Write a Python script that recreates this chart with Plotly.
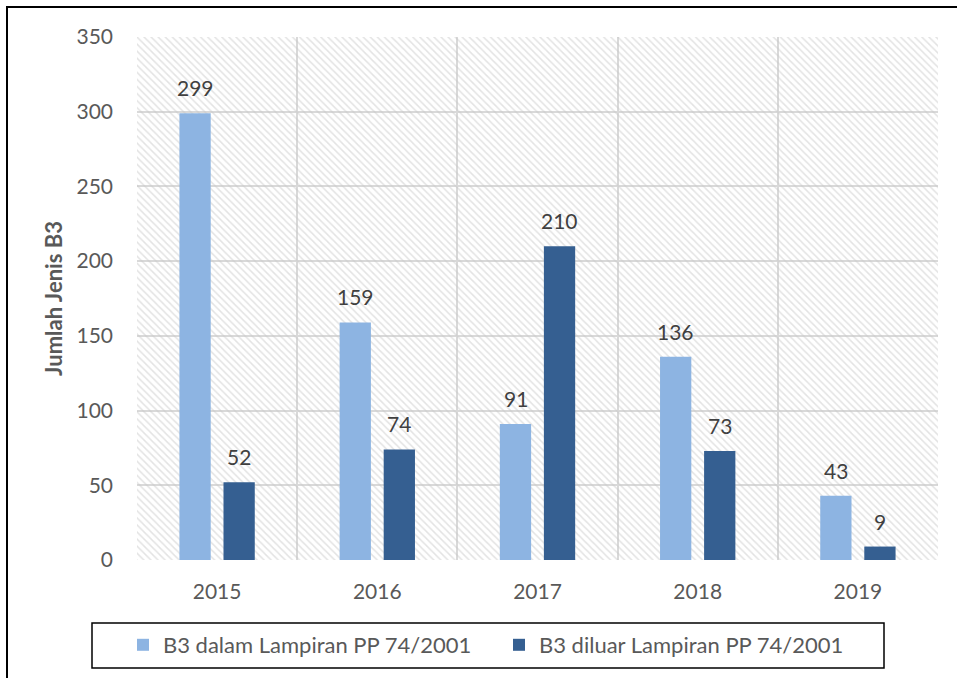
import plotly.graph_objects as go

years = ["2015", "2016", "2017", "2018", "2019"]
dalam = [299, 159, 91, 136, 43]
diluar = [52, 74, 210, 73, 9]
series_names = ["B3 dalam Lampiran PP 74/2001", "B3 diluar Lampiran PP 74/2001"]
y_title = "Jumlah Jenis B3"
y_max = 350

FONT = "Lato"
C_LIGHT = "#8DB4E2"
C_DARK = "#355F91"
GRID = "#D9D9D9"

fig = go.Figure()

# hatched plot-area background
fig.add_trace(go.Bar(
    x=[0.5], y=[y_max], width=[1], xaxis="x", yaxis="y",
    marker=dict(color="rgba(0,0,0,0)", line=dict(width=0),
                pattern=dict(shape="\\", size=5, solidity=0.3,
                             fgcolor="#C8C8C8", bgcolor="rgba(0,0,0,0)")),
    showlegend=False, hoverinfo="skip",
))

fig.add_trace(go.Bar(x=years, y=dalam, name=series_names[0], xaxis="x2", yaxis="y",
                     marker=dict(color=C_LIGHT, line=dict(width=0))))
fig.add_trace(go.Bar(x=years, y=diluar, name=series_names[1], xaxis="x2", yaxis="y",
                     marker=dict(color=C_DARK, line=dict(width=0))))

# data labels (category index on the category axis)
offsets = [-22, 22]
for vals, dx in zip([dalam, diluar], offsets):
    for i, v in enumerate(vals):
        fig.add_annotation(x=i, y=v, xref="x2", yref="y", text=str(v),
                           showarrow=False, xshift=dx, yshift=11, yanchor="bottom",
                           font=dict(family=FONT, size=21, color="#404040"))

W, H = 957, 678
L, R, T, B = 137, 19, 37, 118
pw, ph = W - L - R, H - T - B

def px(x):
    return (x - L) / pw

def py(y):
    return (H - B - y) / ph

# outer frame
fig.add_shape(type="rect", xref="paper", yref="paper",
              x0=px(7), x1=px(965), y0=py(690), y1=py(7),
              line=dict(color="black", width=2), layer="above")
# legend frame
fig.add_shape(type="rect", xref="paper", yref="paper",
              x0=px(92), x1=px(884), y0=py(668), y1=py(623),
              line=dict(color="black", width=1.5), layer="above")

fig.update_layout(
    width=W, height=H,
    margin=dict(l=L, r=R, t=T, b=B, pad=0),
    paper_bgcolor="white", plot_bgcolor="white",
    barmode="group", bargap=0.45, bargroupgap=0.29,
    font=dict(family=FONT, size=21, color="#595959"),
    xaxis=dict(range=[0, 1], visible=False, showgrid=False, fixedrange=True,
               anchor="y", domain=[0, 1]),
    xaxis2=dict(overlaying="x", anchor="y", type="category",
                categoryorder="array", categoryarray=years,
                range=[-0.5, len(years) - 0.5],
                showgrid=True, gridcolor=GRID,
                gridwidth=1.5, tickson="boundaries", ticks="", showline=False,
                zeroline=False, ticklabelstandoff=17, side="bottom",
                tickfont=dict(family=FONT, size=21, color="#595959")),
    yaxis=dict(range=[0, y_max], dtick=50, showgrid=True, gridcolor=GRID,
               gridwidth=1.5, zeroline=False, showline=False, ticks="",
               ticklabelstandoff=23,
               tickfont=dict(family=FONT, size=21, color="#595959"),
               title=dict(text="<b>" + y_title + "</b>", standoff=7,
                          font=dict(family=FONT, size=22, color="#595959"))),
    legend=dict(orientation="h", x=px(123), xanchor="left", y=py(645), yanchor="middle",
                bgcolor="rgba(0,0,0,0)", borderwidth=0, entrywidth=331,
                font=dict(family=FONT, size=22, color="#595959"),
                traceorder="normal"),
    showlegend=True,
)

fig.write_html("out.html")
